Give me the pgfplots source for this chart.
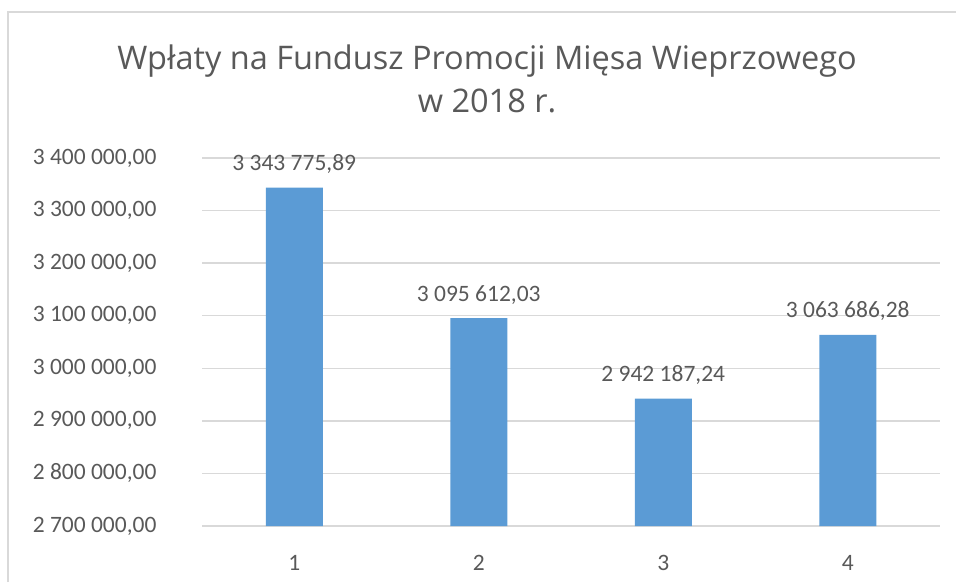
\documentclass[border=0pt]{standalone}
\usepackage{fontspec}
\setmainfont{Carlito}
\newfontfamily\titlefont{Open Sans}
\usepackage{pgfplots}
\pgfplotsset{compat=1.18}
\definecolor{barblue}{HTML}{5B9BD5}
\definecolor{gridgray}{HTML}{D9D9D9}
\definecolor{txtgray}{HTML}{595959}
\begin{document}
\begin{tikzpicture}[x=1pt,y=1pt]
\path[use as bounding box] (0,0) rectangle (956,-582);
\draw[gridgray,line width=2pt] (8,-582) -- (8,-12) -- (956,-12);
\node[txtgray,font=\titlefont\fontsize{32.5}{40}\selectfont,anchor=base,inner sep=0pt] at (487,-69) {Wpłaty na Fundusz Promocji Mięsa Wieprzowego};
\node[txtgray,font=\titlefont\fontsize{32.5}{40}\selectfont,anchor=base,inner sep=0pt] at (487,-112) {w 2018 r.};
\begin{axis}[
  at={(202pt,-526pt)}, anchor=south west,
  scale only axis, width=738pt, height=368pt,
  xmin=0.5, xmax=4.5, ymin=2700000, ymax=3400000,
  axis line style={draw=none},
  ymajorgrids, grid style={gridgray,line width=1.5pt},
  ytick={2700000,2800000,2900000,3000000,3100000,3200000,3300000,3400000},
  yticklabels={{2 700 000,00},{2 800 000,00},{2 900 000,00},{3 000 000,00},{3 100 000,00},{3 200 000,00},{3 300 000,00},{3 400 000,00}},
  xtick={1,2,3,4}, xticklabels={1,2,3,4},
  major tick length=0pt,
  ticklabel style={txtgray,font=\fontsize{23.5}{26}\selectfont},
  yticklabel style={anchor=east,xshift=-42pt},
  xticklabel style={anchor=base,yshift=-44pt},
  scaled y ticks=false,
  clip=false,
]
\addplot[ybar, bar width=57pt, fill=barblue, draw=none,
  point meta=explicit symbolic,
  nodes near coords,
  nodes near coords style={txtgray,font=\fontsize{23.5}{26}\selectfont,anchor=base,yshift=17pt,inner sep=0pt},
] coordinates {
  (1,3343775.89) [3 343 775,89]
  (2,3095612.03) [3 095 612,03]
  (3,2942187.24) [2 942 187,24]
  (4,3063686.28) [3 063 686,28]
};
\end{axis}
\end{tikzpicture}
\end{document}
